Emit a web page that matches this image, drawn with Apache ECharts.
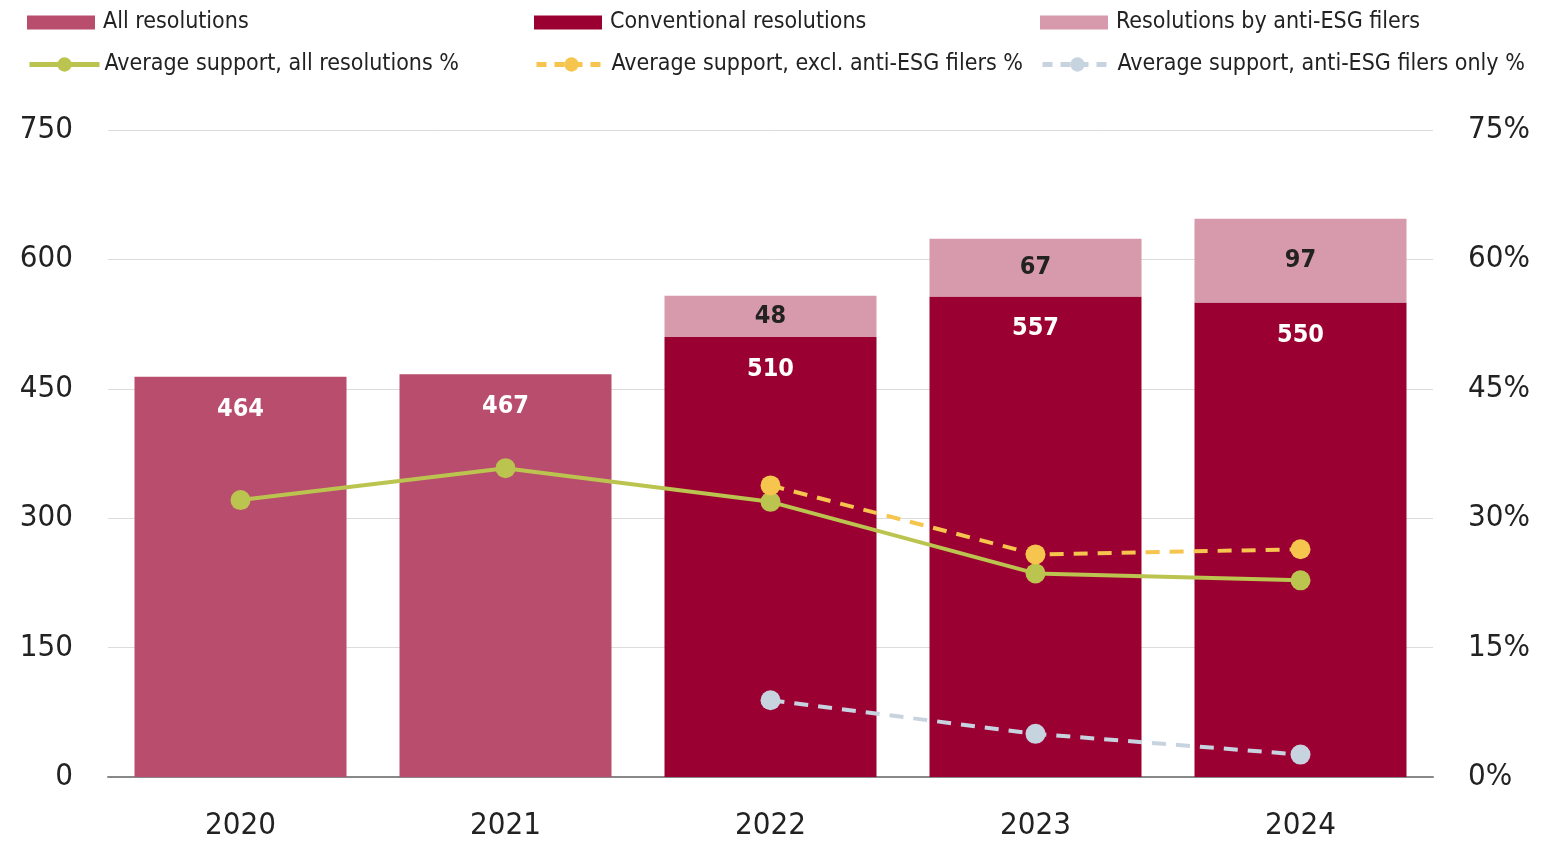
<!DOCTYPE html>
<html>
<head>
<meta charset="utf-8">
<script src="https://cdn.jsdelivr.net/npm/echarts@6/dist/echarts.min.js"></script>
<style>
  html, body { margin: 0; padding: 0; background: #fff; }
  #chart { width: 1556px; height: 844px; }
</style>
</head>
<body>
<div id="chart"></div>
<script>
// Shareholder resolutions by year, with average support levels
const years = ['2020', '2021', '2022', '2023', '2024'];
const allResolutions = [464, 467, null, null, null];
const conventionalResolutions = [null, null, 510, 557, 550];
const antiEsgResolutions = [null, null, 48, 67, 97];
const supportAll = [32.1, 35.8, 31.9, 23.6, 22.8];
const supportExclAnti = [null, null, 33.8, 25.8, 26.4];
const supportAntiOnly = [null, null, 8.9, 5.0, 2.6];
const countTicks = [0, 150, 300, 450, 600, 750];
const pctTicks = [0, 15, 30, 45, 60, 75];

const FONT = '"Liberation Sans Narrow", "DejaVu Sans Condensed", "Noto Sans", sans-serif';
const C_ALL = '#B94D6E';
const C_CONV = '#9B0033';
const C_ANTI = '#D799AC';
const C_GREEN = '#BBC44F';
const C_YELLOW = '#F5C54E';
const C_BLUE = '#C8D3E0';

const dash = v => (v === null ? '-' : v);

function legendAt(name, left, top, isLine, lineType) {
  const lg = {
    data: [isLine ? { name: name } : { name: name, icon: 'rect' }],
    left: left,
    top: top,
    itemWidth: isLine ? 70 : 68,
    itemHeight: isLine ? 18 : 14,
    itemGap: 0,
    selectedMode: false,
    textStyle: { fontFamily: FONT, fontSize: 23, color: '#222', padding: [0, 0, 0, isLine ? 0 : 3] }
  };
  if (isLine) lg.lineStyle = { width: 5, type: lineType || 'solid' };
  return lg;
}

const chart = echarts.init(document.getElementById('chart'), null, { renderer: 'canvas' });

chart.setOption({
  animation: false,
  backgroundColor: '#fff',
  legend: [
    legendAt('All resolutions', 22, 6, false),
    legendAt('Conventional resolutions', 529, 6, false),
    legendAt('Resolutions by anti-ESG filers', 1035, 6, false),
    legendAt('Average support, all resolutions %', 22, 48, true),
    legendAt('Average support, excl. anti-ESG filers %', 529, 48, true, [10, 8]),
    legendAt('Average support, anti-ESG filers only %', 1035, 48, true, [10, 8])
  ],
  grid: { left: 108, right: 123, top: 130, bottom: 67 },
  xAxis: {
    type: 'category',
    data: years,
    axisTick: { show: false },
    axisLine: { lineStyle: { color: '#888', width: 2 } },
    axisLabel: { fontFamily: FONT, fontSize: 31, color: '#222', margin: 33 }
  },
  yAxis: [
    {
      type: 'value',
      min: countTicks[0],
      max: countTicks[countTicks.length - 1],
      interval: countTicks[1] - countTicks[0],
      axisLine: { show: false },
      axisTick: { show: false },
      splitLine: { lineStyle: { color: '#dcdcdc', width: 1 } },
      axisLabel: { fontFamily: FONT, fontSize: 31, color: '#222', margin: 35 }
    },
    {
      type: 'value',
      min: pctTicks[0],
      max: pctTicks[pctTicks.length - 1],
      interval: pctTicks[1] - pctTicks[0],
      axisLine: { show: false },
      axisTick: { show: false },
      splitLine: { show: false },
      axisLabel: { fontFamily: FONT, fontSize: 31, color: '#222', margin: 35, formatter: '{value}%' }
    }
  ],
  series: [
    {
      name: 'All resolutions',
      type: 'bar',
      stack: 'count',
      barWidth: '80%',
      itemStyle: { color: C_ALL },
      data: allResolutions.map(dash),
      label: {
        show: true, position: 'insideTop', distance: 20,
        fontFamily: FONT, fontSize: 25, fontWeight: 'bold', color: '#fff'
      }
    },
    {
      name: 'Conventional resolutions',
      type: 'bar',
      stack: 'count',
      barWidth: '80%',
      itemStyle: { color: C_CONV },
      data: conventionalResolutions.map(dash),
      label: {
        show: true, position: 'insideTop', distance: 20,
        fontFamily: FONT, fontSize: 25, fontWeight: 'bold', color: '#fff'
      }
    },
    {
      name: 'Resolutions by anti-ESG filers',
      type: 'bar',
      stack: 'count',
      barWidth: '80%',
      itemStyle: { color: C_ANTI },
      data: antiEsgResolutions.map(dash),
      label: {
        show: true, position: 'inside',
        fontFamily: FONT, fontSize: 25, fontWeight: 'bold', color: '#222'
      }
    },
    {
      name: 'Average support, all resolutions %',
      type: 'line',
      yAxisIndex: 1,
      data: supportAll.map(dash),
      symbol: 'circle',
      symbolSize: 20,
      lineStyle: { color: C_GREEN, width: 4 },
      itemStyle: { color: C_GREEN },
      z: 5
    },
    {
      name: 'Average support, excl. anti-ESG filers %',
      type: 'line',
      yAxisIndex: 1,
      data: supportExclAnti.map(dash),
      symbol: 'circle',
      symbolSize: 20,
      lineStyle: { color: C_YELLOW, width: 4, type: [14, 10] },
      itemStyle: { color: C_YELLOW },
      z: 5
    },
    {
      name: 'Average support, anti-ESG filers only %',
      type: 'line',
      yAxisIndex: 1,
      data: supportAntiOnly.map(dash),
      symbol: 'circle',
      symbolSize: 20,
      lineStyle: { color: C_BLUE, width: 4, type: [14, 10] },
      itemStyle: { color: C_BLUE },
      z: 5
    }
  ]
});
</script>
</body>
</html>
